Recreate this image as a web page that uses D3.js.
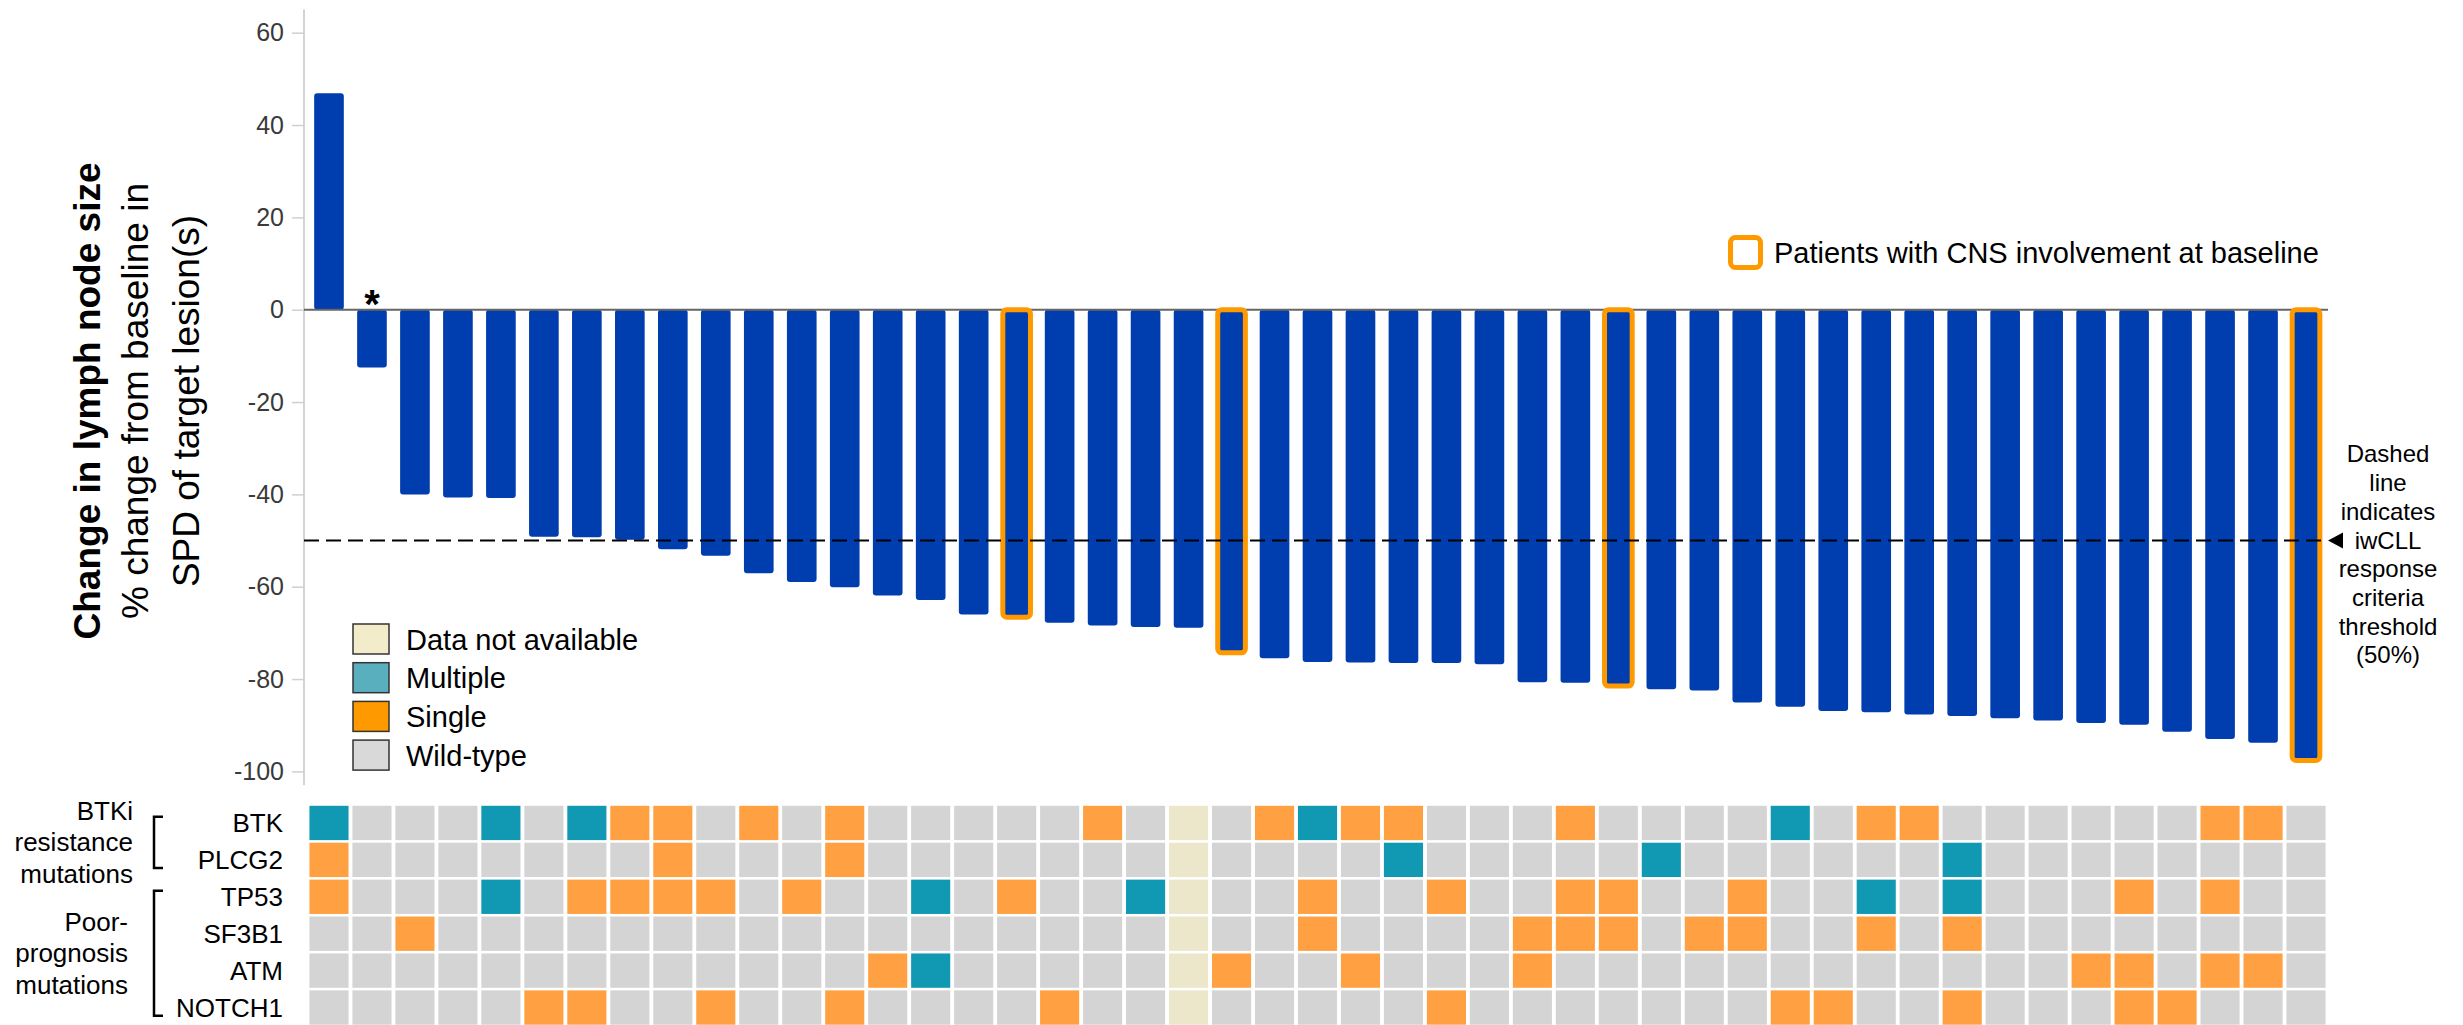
<!DOCTYPE html>
<html>
<head>
<meta charset="utf-8">
<script src="https://cdn.jsdelivr.net/npm/d3@7"></script>
<style>
  html, body { margin: 0; padding: 0; background: #fff; }
  svg { display: block; font-family: "Liberation Sans", Arial, Helvetica, sans-serif; }
</style>
</head>
<body>
<svg id="chart" width="2463" height="1025"></svg>
<script>
// Best % change from baseline in SPD of target lesion(s), one value per patient (sorted)
const changeValues = [
  46.9, -12.5, -40.0, -40.7, -40.8, -49.2, -49.3, -49.8, -51.9, -53.3,
  -57.1, -59.0, -60.1, -61.9, -62.9, -66.0, -66.4, -67.8, -68.4, -68.7,
  -68.9, -74.1, -75.5, -76.3, -76.4, -76.5, -76.5, -76.8, -80.7, -80.8,
  -81.3, -82.2, -82.5, -85.1, -86.0, -86.9, -87.2, -87.7, -88.0, -88.5,
  -89.0, -89.5, -89.9, -91.4, -93.0, -93.8, -97.4
];
// Patients (by position) with CNS involvement at baseline
const cnsPatients = [16, 21, 30, 46];
// Patients flagged with an asterisk
const asteriskPatients = [1];

const responseThreshold = -50;
const yTicks = [60, 40, 20, 0, -20, -40, -60, -80, -100];

// Mutation status per patient: W = wild-type, S = single, M = multiple, N = data not available
const genes = ["BTK", "PLCG2", "TP53", "SF3B1", "ATM", "NOTCH1"];
const btkStatus = [
  "M","W","W","W","M","W","M","S","S","W","S","W","S","W","W","W","W","W","S","W",
  "N","W","S","M","S","S","W","W","W","S","W","W","W","W","M","W","S","S","W","W",
  "W","W","W","W","S","S","W"
];
const plcg2Status = [
  "S","W","W","W","W","W","W","W","S","W","W","W","S","W","W","W","W","W","W","W",
  "N","W","W","W","W","M","W","W","W","W","W","M","W","W","W","W","W","W","M","W",
  "W","W","W","W","W","W","W"
];
const tp53Status = [
  "S","W","W","W","M","W","S","S","S","S","W","S","W","W","M","W","S","W","W","M",
  "N","W","W","S","W","W","S","W","W","S","S","W","W","S","W","W","M","W","M","W",
  "W","W","S","W","S","W","W"
];
const sf3b1Status = [
  "W","W","S","W","W","W","W","W","W","W","W","W","W","W","W","W","W","W","W","W",
  "N","W","W","S","W","W","W","W","S","S","S","W","S","S","W","W","S","W","S","W",
  "W","W","W","W","W","W","W"
];
const atmStatus = [
  "W","W","W","W","W","W","W","W","W","W","W","W","W","S","M","W","W","W","W","W",
  "N","S","W","W","S","W","W","W","S","W","W","W","W","W","W","W","W","W","W","W",
  "W","S","S","W","S","S","W"
];
const notch1Status = [
  "W","W","W","W","W","S","S","W","W","S","W","W","S","W","W","W","W","S","W","W",
  "N","W","W","W","W","W","S","W","W","W","W","W","W","W","S","S","W","W","S","W",
  "W","W","S","S","W","W","W"
];
const geneStatus = [btkStatus, plcg2Status, tp53Status, sf3b1Status, atmStatus, notch1Status];

const statusCodes = ["N", "M", "S", "W"];
const statusLabels = ["Data not available", "Multiple", "Single", "Wild-type"];
const cellColors = { W: "#d4d4d4", S: "#ffa142", M: "#1199b3", N: "#ece6cb" };
const legendColors = { N: "#f2ecca", M: "#5aafbf", S: "#ff9900", W: "#d9d9d9" };

const groupLabels = [
  { lines: ["BTKi", "resistance", "mutations"], from: "BTK", to: "PLCG2" },
  { lines: ["Poor-", "prognosis", "mutations"], from: "TP53", to: "NOTCH1" }
];

const svg = d3.select("#chart");
const font = '"Liberation Sans", Arial, Helvetica, sans-serif';

const patientIds = changeValues.map((_, i) => i);

// Shared step for bars and heatmap cells
const xBar = d3.scaleBand().domain(patientIds).range([307.5, 2327.5])
  .paddingInner(0.31).paddingOuter(0.155);
const xCell = d3.scaleBand().domain(patientIds).range([307.5, 2327.5])
  .paddingInner(0.09).paddingOuter(0.045);
const y = d3.scaleLinear().domain([-100, 60]).range([771.4, 32.7]);
const yRow = d3.scaleBand().domain(genes).range([804.5, 1026]).paddingInner(0.07).paddingOuter(0.035);

const axisX = 304;
const lineEnd = 2328;

// ---- Y axis ----
svg.append("line")
  .attr("x1", axisX).attr("x2", axisX)
  .attr("y1", y(65)).attr("y2", y(-103))
  .attr("stroke", "#c4c4c4").attr("stroke-width", 1.5);

const yAxis = svg.append("g")
  .attr("transform", `translate(${axisX},0)`)
  .call(d3.axisLeft(y).tickValues(yTicks).tickSize(12).tickPadding(8).tickFormat(d => String(d)));
yAxis.select(".domain").remove();
yAxis.selectAll(".tick line").attr("stroke", "#d0d0d0").attr("stroke-width", 1.5);
yAxis.selectAll(".tick text")
  .attr("font-family", font).attr("font-size", 25).attr("fill", "#3a3a3a");

// ---- Y axis title ----
const title = svg.append("g").attr("font-family", font).attr("font-size", 37).attr("fill", "#000");
[
  { x: 100, text: "Change in lymph node size", weight: "bold" },
  { x: 148, text: "% change from baseline in", weight: "normal" },
  { x: 199, text: "SPD of target lesion(s)", weight: "normal" }
].forEach(t => {
  title.append("text")
    .attr("transform", `translate(${t.x},401) rotate(-90)`)
    .attr("text-anchor", "middle")
    .attr("font-weight", t.weight)
    .text(t.text);
});

// ---- Bars ----
svg.append("g").selectAll("rect")
  .data(changeValues)
  .join("rect")
  .attr("x", (d, i) => xBar(i))
  .attr("width", xBar.bandwidth())
  .attr("y", d => Math.min(y(d), y(0)))
  .attr("height", d => Math.abs(y(d) - y(0)))
  .attr("rx", 3)
  .attr("fill", "#003daf");

// Zero baseline
svg.append("line")
  .attr("x1", axisX).attr("x2", lineEnd)
  .attr("y1", y(0)).attr("y2", y(0))
  .attr("stroke", "#666").attr("stroke-width", 2);

// CNS involvement outlines
svg.append("g").selectAll("rect")
  .data(cnsPatients)
  .join("rect")
  .attr("x", i => xBar(i) + 1)
  .attr("width", xBar.bandwidth() - 2)
  .attr("y", i => y(0))
  .attr("height", i => y(changeValues[i]) - y(0) + 1)
  .attr("rx", 4)
  .attr("fill", "none")
  .attr("stroke", "#ff9900")
  .attr("stroke-width", 5);

// Asterisk marks
svg.append("g").selectAll("text")
  .data(asteriskPatients)
  .join("text")
  .attr("x", i => xBar(i) + xBar.bandwidth() / 2)
  .attr("y", y(0) + 8)
  .attr("text-anchor", "middle")
  .attr("font-family", font).attr("font-size", 40).attr("font-weight", "bold")
  .text("*");

// Response threshold
svg.append("line")
  .attr("x1", axisX).attr("x2", lineEnd - 4)
  .attr("y1", y(responseThreshold)).attr("y2", y(responseThreshold))
  .attr("stroke", "#000").attr("stroke-width", 2)
  .attr("stroke-dasharray", "15,7");

const ty = y(responseThreshold);
svg.append("path")
  .attr("d", `M${lineEnd},${ty} L${lineEnd + 15},${ty - 8} L${lineEnd + 15},${ty + 8} Z`)
  .attr("fill", "#000");

const noteLines = ["Dashed", "line", "indicates", "iwCLL", "response", "criteria", "threshold", "(50%)"];
svg.append("g").selectAll("text")
  .data(noteLines)
  .join("text")
  .attr("x", 2388)
  .attr("y", (d, i) => ty + 8 + (i - 3) * 28.7)
  .attr("text-anchor", "middle")
  .attr("font-family", font).attr("font-size", 24).attr("fill", "#000")
  .text(d => d);

// ---- CNS legend ----
svg.append("rect")
  .attr("x", 1730.5).attr("y", 237.5).attr("width", 30).attr("height", 30)
  .attr("rx", 5).attr("fill", "none").attr("stroke", "#ff9900").attr("stroke-width", 5);
svg.append("text")
  .attr("x", 1774).attr("y", 263)
  .attr("font-family", font).attr("font-size", 29).attr("fill", "#000")
  .text("Patients with CNS involvement at baseline");

// ---- Mutation status legend ----
const legend = svg.append("g");
statusCodes.forEach((code, k) => {
  const top = 624 + k * 38.7;
  legend.append("rect")
    .attr("x", 353).attr("y", top).attr("width", 36).attr("height", 30)
    .attr("fill", legendColors[code]).attr("stroke", "#333").attr("stroke-width", 1.5);
  legend.append("text")
    .attr("x", 406).attr("y", top + 25.5)
    .attr("font-family", font).attr("font-size", 29).attr("fill", "#000")
    .text(statusLabels[k]);
});

// ---- Mutation heatmap ----
const heat = svg.append("g");
genes.forEach((gene, g) => {
  heat.append("g").selectAll("rect")
    .data(geneStatus[g])
    .join("rect")
    .attr("x", (d, i) => xCell(i))
    .attr("y", yRow(gene))
    .attr("width", xCell.bandwidth())
    .attr("height", yRow.bandwidth())
    .attr("fill", d => cellColors[d]);
});

// Gene labels
svg.append("g").selectAll("text")
  .data(genes)
  .join("text")
  .attr("x", 283)
  .attr("y", d => yRow(d) + yRow.bandwidth() / 2 + 9.5)
  .attr("text-anchor", "end")
  .attr("font-family", font).attr("font-size", 26).attr("fill", "#000")
  .text(d => d);

// Group labels with brackets
const groupRight = [133, 128];
groupLabels.forEach((grp, k) => {
  const top = yRow(grp.from);
  const bottom = yRow(grp.to) + yRow.bandwidth();
  const b0 = top + 11;
  const b1 = Math.min(bottom - 9, 1018);
  svg.append("path")
    .attr("d", `M163,${b0} H154 V${b1} H163`)
    .attr("fill", "none").attr("stroke", "#000").attr("stroke-width", 2.5);
  const mid = (b0 + b1) / 2;
  svg.append("g").selectAll("text")
    .data(grp.lines)
    .join("text")
    .attr("x", groupRight[k])
    .attr("y", (d, i) => mid + 9 + (i - 1) * 31.5)
    .attr("text-anchor", "end")
    .attr("font-family", font).attr("font-size", 26).attr("fill", "#000")
    .text(d => d);
});
</script>
</body>
</html>
